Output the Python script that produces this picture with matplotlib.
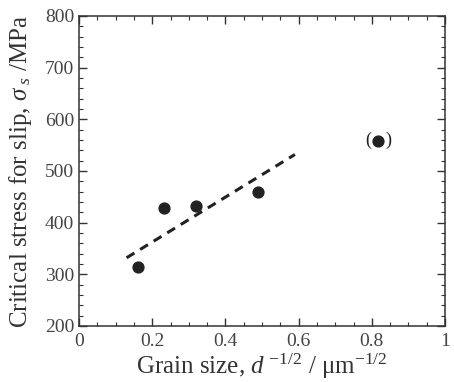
import matplotlib
matplotlib.use("Agg")
import matplotlib.pyplot as plt
from matplotlib.ticker import MultipleLocator

plt.rcParams['font.family'] = ['Liberation Serif', 'DejaVu Serif']
plt.rcParams['mathtext.fontset'] = 'custom'
plt.rcParams['mathtext.rm'] = 'Liberation Serif'
plt.rcParams['mathtext.it'] = 'Liberation Serif:italic'

grain_size = [0.162, 0.231, 0.319, 0.488]
stress = [314, 428, 432, 460]
outlier_x = [0.818]
outlier_y = [559]
fit_x = [0.130, 0.590]
fit_y = [332, 532]
x_ticks = [0, 0.2, 0.4, 0.6, 0.8, 1.0]
x_ticklabels = ['0', '0.2', '0.4', '0.6', '0.8', '1']

fig = plt.figure(figsize=(4.54, 3.82), dpi=100)
ax = fig.add_axes([79/454, 1-326/382, (445-79)/454, (326-16)/382])

ax.plot(fit_x, fit_y, ls=(0, (3, 2.2)), color='#222222', lw=2.2)
ax.plot(grain_size, stress, 'o', color='#222222', ms=7.8)
ax.plot(outlier_x, outlier_y, 'o', color='#222222', ms=7.8)
for xv, yv in zip(outlier_x, outlier_y):
    ax.annotate('(', (xv, yv), xytext=(-7.5, 0), textcoords='offset points',
                ha='center', va='center', fontsize=13, color='#222222')
    ax.annotate(')', (xv, yv), xytext=(7.5, 0), textcoords='offset points',
                ha='center', va='center', fontsize=13, color='#222222')

ax.set_xlim(0, 1)
ax.set_ylim(200, 800)
ax.xaxis.set_minor_locator(MultipleLocator(0.05))
ax.yaxis.set_major_locator(MultipleLocator(100))
ax.yaxis.set_minor_locator(MultipleLocator(20))
ax.set_xticks(x_ticks)
ax.set_xticklabels(x_ticklabels)
ax.tick_params(which='both', direction='in', top=True, right=True, labelsize=14, colors='#333333', labelcolor='#444444')
ax.tick_params(which='major', length=6, width=1)
ax.tick_params(which='minor', length=3, width=0.8)
ax.tick_params(axis='x', pad=5)
for s in ax.spines.values():
    s.set_linewidth(1.1)
    s.set_color('#333333')

ax.set_xlabel(r'Grain size, $d^{\ \mathrm{-1/2}}$ / $\mathrm{\mu m}^{\mathrm{-1/2}}$', fontsize=18, color='#333333', labelpad=1)
ax.set_ylabel(r'Critical stress for slip, $\sigma_{\ s}$ /MPa', fontsize=18, color='#333333', labelpad=8)

fig.savefig('out.png', dpi=100)
